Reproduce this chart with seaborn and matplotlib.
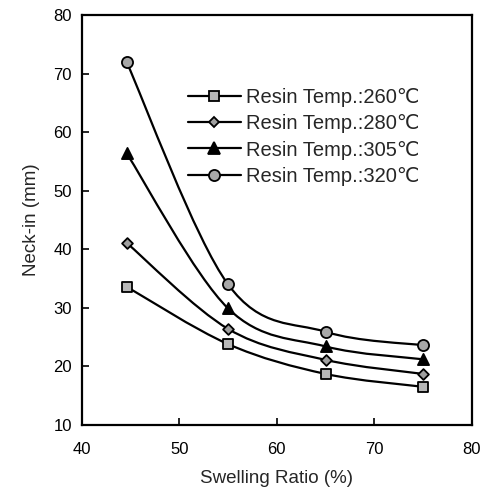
import matplotlib
matplotlib.use('Agg')
import matplotlib.pyplot as plt
from matplotlib.path import Path
from matplotlib.patches import PathPatch
from matplotlib.lines import Line2D
import seaborn as sns
import pandas as pd
import numpy as np

# data
swelling = [44.6, 55, 65, 75]
neck_260 = [33.6, 23.8, 18.7, 16.5]
neck_280 = [41.1, 26.4, 21.1, 18.7]
neck_305 = [56.4, 29.9, 23.4, 21.2]
neck_320 = [72.0, 34.0, 25.9, 23.6]
labels = ['Resin Temp.:260℃', 'Resin Temp.:280℃',
          'Resin Temp.:305℃', 'Resin Temp.:320℃']

sns.set_theme(style="white")
plt.rcParams['font.family'] = ['Liberation Sans', 'DejaVu Sans']

df = pd.concat([
    pd.DataFrame({'swelling': swelling, 'neck': vals, 'series': lab})
    for vals, lab in zip([neck_260, neck_280, neck_305, neck_320], labels)
])

styles = {
    labels[0]: dict(marker='s', color='#b8b8b8', size=7),
    labels[1]: dict(marker='D', color='#a0a0a0', size=5.5),
    labels[2]: dict(marker='^', color='black', size=8),
    labels[3]: dict(marker='o', color='#a8a8a8', size=8),
}


def smooth_path(x, y):
    """Catmull-Rom curve through the points as cubic Bezier segments."""
    pts = np.column_stack([x, y]).astype(float)
    ext = np.vstack([pts[0], pts, pts[-1]])
    verts = [tuple(pts[0])]
    codes = [Path.MOVETO]
    for i in range(1, len(ext) - 2):
        p0, p1, p2, p3 = ext[i - 1], ext[i], ext[i + 1], ext[i + 2]
        c1 = p1 + (p2 - p0) / 6
        c2 = p2 - (p3 - p1) / 6
        verts += [tuple(c1), tuple(c2), tuple(p2)]
        codes += [Path.CURVE4] * 3
    return Path(verts, codes)


fig = plt.figure(figsize=(4.84, 4.94), dpi=100)
ax = fig.add_axes([0.169, 0.14, 0.806, 0.829])

for lab in labels:
    sub = df[df['series'] == lab]
    ax.add_patch(PathPatch(smooth_path(sub['swelling'], sub['neck']),
                           facecolor='none', edgecolor='black',
                           linewidth=1.6, zorder=2))
    st = styles[lab]
    sns.scatterplot(data=sub, x='swelling', y='neck', marker=st['marker'],
                    color=st['color'], edgecolor='black', linewidth=1.3,
                    s=st['size'] ** 2, zorder=3, ax=ax, legend=False)

ax.set_xlim(40, 80)
ax.set_ylim(10, 80)
ax.set_xticks([40, 50, 60, 70, 80])
ax.set_yticks([10, 20, 30, 40, 50, 60, 70, 80])
ax.tick_params(direction='in', length=5, width=1.2, labelsize=12,
               colors='black', bottom=True, left=True)
ax.tick_params(axis='x', pad=12)
ax.tick_params(axis='y', pad=7)
for sp in ax.spines.values():
    sp.set_linewidth(1.6)
    sp.set_color('black')

ax.set_xlabel('Swelling Ratio (%)', fontsize=13.5, labelpad=10)
ax.set_ylabel('Neck-in (mm)', fontsize=13.5, labelpad=10)

handles = [Line2D([], [], color='black', linewidth=1.6,
                  marker=styles[lab]['marker'], markersize=styles[lab]['size'],
                  markerfacecolor=styles[lab]['color'],
                  markeredgecolor='black', markeredgewidth=1.3)
           for lab in labels]
ax.legend(handles, labels, loc='upper left', bbox_to_anchor=(0.247, 0.847),
          frameon=False, fontsize=14.5, handlelength=2.6, handletextpad=0.25,
          labelspacing=0.36, borderpad=0)

fig.savefig('out.png', dpi=100)
plt.close(fig)
